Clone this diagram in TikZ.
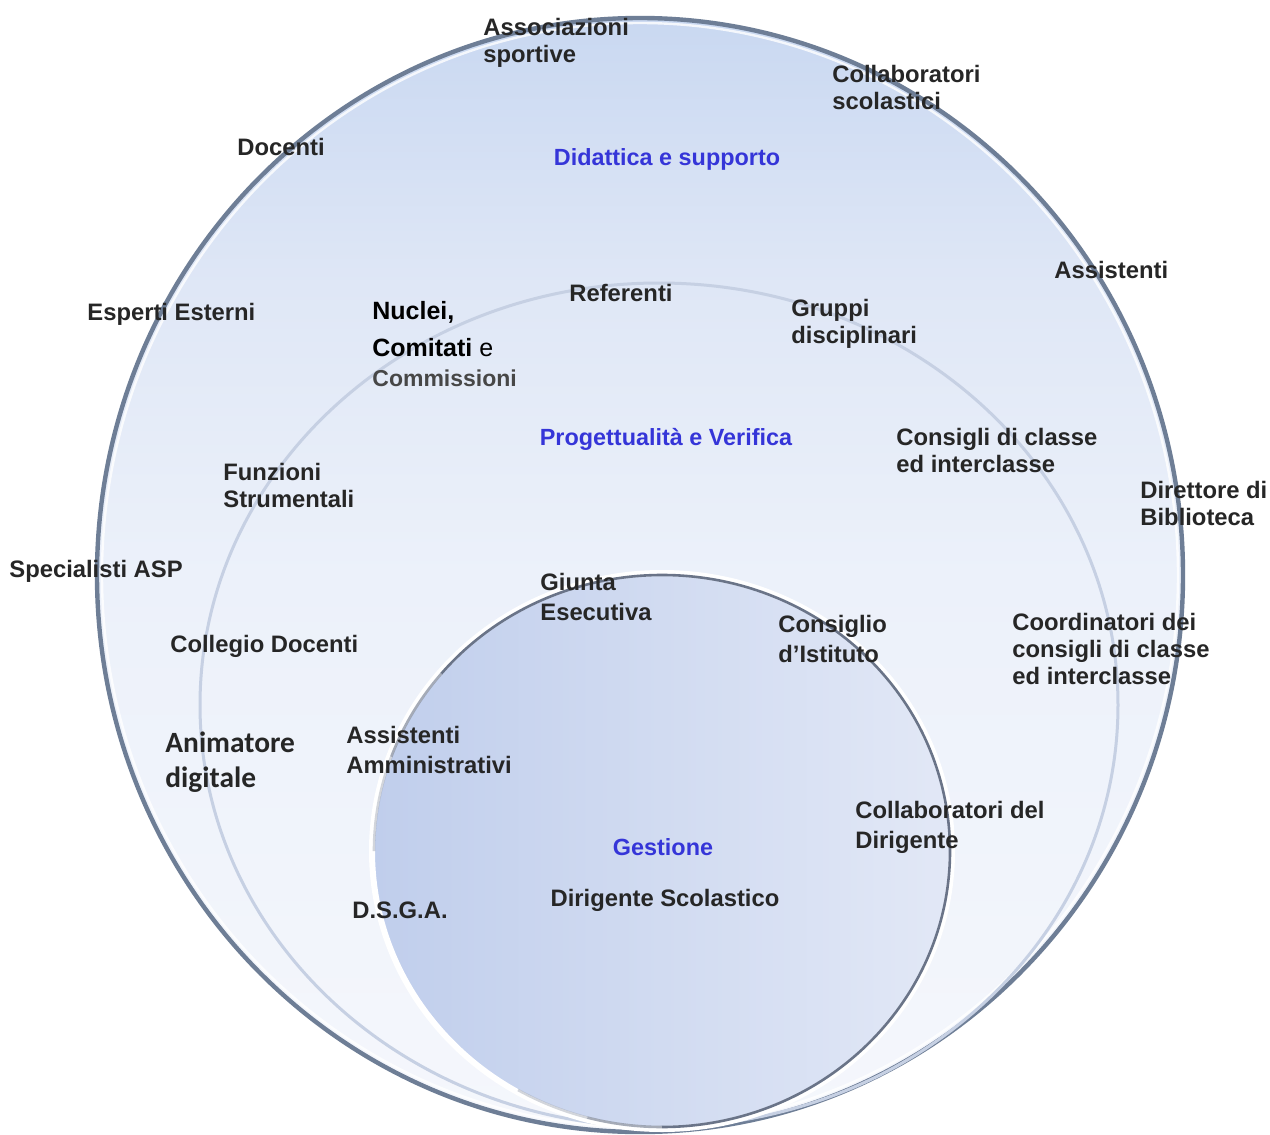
\documentclass[tikz,border=0pt]{standalone}
\usepackage{fontspec}
\setmainfont{Liberation Sans}
\newfontfamily\calfont{Carlito}
\definecolor{txt}{HTML}{262626}
\definecolor{ttlblue}{HTML}{3535D8}
\definecolor{outtop}{HTML}{C9D8F1}
\definecolor{outmidb}{HTML}{DFE7F6}
\definecolor{outmid}{HTML}{ECF1FA}
\definecolor{outbot}{HTML}{F5F7FC}
\definecolor{ringdark}{HTML}{6E7E96}
\definecolor{midline}{HTML}{C6D0E3}
\definecolor{inleft}{HTML}{C0CEEC}
\definecolor{inright}{HTML}{E2E8F6}
\definecolor{indark}{HTML}{6A7488}
\pgfdeclareverticalshading{outsh}{100bp}{color(0bp)=(outbot); color(25bp)=(outbot); color(50bp)=(outmid); color(63bp)=(outmidb); color(75bp)=(outtop); color(100bp)=(outtop)}
\begin{document}
\begin{tikzpicture}[x=0.5pt,y=-0.5pt,
  lbl/.style={anchor=north west, inner sep=0pt, align=left, text=txt,
    font=\bfseries\fontsize{11.9}{13.5}\selectfont},
  lblw/.style={lbl, font=\bfseries\fontsize{11.9}{15}\selectfont},
  ttl/.style={anchor=center, inner sep=0pt, text=ttlblue,
    font=\bfseries\fontsize{11.7}{13.5}\selectfont}]
\useasboundingbox (0,0) rectangle (1270,1135);
\fill[white] (0,0) rectangle (1270,1135);
% outer circle
\shade[shading=outsh] (640,575) ellipse [x radius=543, y radius=557];
\draw[line width=2.2pt, ringdark] (640,575) ellipse [x radius=543, y radius=557];
\draw[line width=1.2pt, white, opacity=0.8] (640,575) ellipse [x radius=538, y radius=552];
% middle circle
\draw[line width=1.5pt, midline] (659,705) ellipse [x radius=459, y radius=422];
% inner circle
\shade[left color=inleft, right color=inright] (662,851) ellipse [x radius=288, y radius=276];
\draw[line width=3pt, white] (662,851) ellipse [x radius=290, y radius=278];
\draw[line width=1.3pt, indark] (662,851) ++(-140:288 and 276)
  arc[start angle=-140, end angle=90, x radius=288, y radius=276];
\foreach \a/\b/\o in {-160/-140/0.6, -180/-160/0.3, 90/105/0.6, 105/120/0.3}
  \draw[line width=1.3pt, indark, opacity=\o] (662,851) ++(\a:288 and 276)
    arc[start angle=\a, end angle=\b, x radius=288, y radius=276];
% labels
\node[lbl] (asp) at (483,18) {Associazioni\\sportive};
\node[lbl] (csc) at (832,65) {Collaboratori\\scolastici};
\node[lbl] (doc) at (237,138) {Docenti};
\node[ttl] (did) at (667,159) {Didattica e supporto};
\node[lbl] (ass) at (1054,261) {Assistenti};
\node[lbl] (esp) at (87,303) {Esperti Esterni};
\node[lbl] (ref) at (569,284) {Referenti};
\node[lbl] (gru) at (791,299) {Gruppi\\disciplinari};
\node[anchor=north west, inner sep=0pt, align=left, text=black,
  font=\bfseries\fontsize{12.5}{15}\selectfont] (nuc) at (372,301)
  {Nuclei,\\[3.5pt]Comitati {\mdseries e}\\{\color{txt!85!white}\fontsize{11.5}{15}\selectfont Commissioni}};
\node[ttl] (pro) at (666,439) {Progettualità e Verifica};
\node[lbl] (cdc) at (896,428) {Consigli di classe\\ed interclasse};
\node[lbl] (dir) at (1140,481) {Direttore di\\Biblioteca};
\node[lbl] (fun) at (223,463) {Funzioni\\Strumentali};
\node[lbl] (spe) at (9,560) {Specialisti ASP};
\node[lblw] (giu) at (540,573) {Giunta\\Esecutiva};
\node[lblw] (cdi) at (778,615) {Consiglio\\d’Istituto};
\node[lbl] (coo) at (1012,613) {Coordinatori dei\\consigli di classe\\ed interclasse};
\node[lbl] (col) at (170,635) {Collegio Docenti};
\node[anchor=north west, inner sep=0pt, align=left, text=txt,
  font=\calfont\bfseries\fontsize{14.7}{17.5}\selectfont] (ani) at (165,731) {Animatore\\digitale};
\node[lblw] (amm) at (346,726) {Assistenti\\Amministrativi};
\node[lblw] (cdd) at (855,801) {Collaboratori del\\Dirigente};
\node[ttl] (ges) at (663,847) {Gestione};
\node[lbl, anchor=center] (dsc) at (665,900) {Dirigente Scolastico};
\node[lbl] (dsg) at (352,901) {D.S.G.A.};
\end{tikzpicture}
\end{document}
